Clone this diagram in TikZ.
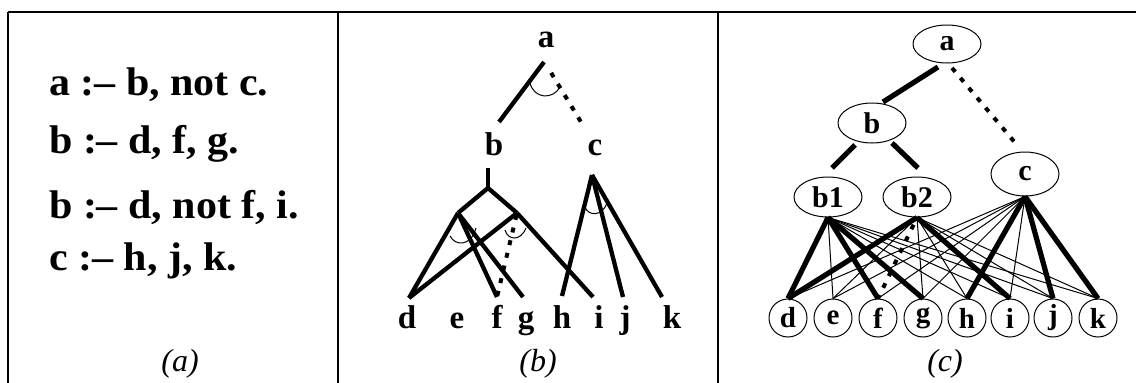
\documentclass[tikz,border=0pt]{standalone}
\usepackage{fontspec}
\setmainfont{Liberation Serif}
\newfontfamily\rulefont[FakeStretch=1.05]{Liberation Serif}
\usetikzlibrary{shapes.geometric,calc}
\begin{document}
\begin{tikzpicture}[x=1pt,y=-1pt,
  frame/.style={line width=1.8pt},
  topline/.style={line width=2.2pt},
  ruletext/.style={anchor=base west, inner sep=0pt, font=\rulefont\bfseries\fontsize{40}{40}\selectfont},
  caption/.style={inner sep=0pt, font=\itshape\fontsize{32}{32}\selectfont},
  blabel/.style={anchor=base, inner sep=0pt, font=\bfseries\fontsize{33}{33}\selectfont},
  bline/.style={line width=4.3pt},
  bdot/.style={line width=4pt, dash pattern=on 5pt off 8pt},
  barc/.style={line width=1pt},
  goal/.style={ellipse, draw, line width=1pt, minimum width=68pt, minimum height=40pt, inner sep=0pt, font=\bfseries\fontsize{30}{30}\selectfont},
  leaf/.style={circle, draw, line width=1pt, minimum size=38pt, inner sep=0pt, font=\bfseries\fontsize{29}{29}\selectfont},
  heavy/.style={line width=5.2pt},
  light/.style={line width=1pt},
  dotedge/.style={line width=4pt, dash pattern=on 5pt off 8pt},
]
\useasboundingbox (0,0) rectangle (1136,383);

% frame
\draw[topline] (8,12) -- (1136,12);
\draw[frame] (8,12) -- (8,383);
\draw[frame] (338,12) -- (338,383);
\draw[frame] (718,12) -- (718,383);

% ---------- panel (a) ----------
\node[ruletext] (r1) at (49,95)  {a :– b, not c.};
\node[ruletext] (r2) at (49,153) {b :– d, f, g.};
\node[ruletext] (r3) at (49,218) {b :– d, not f, i.};
\node[ruletext] (r4) at (49,270) {c :– h, j, k.};
\node[caption] (capa) at (180,364) {(a)};

% ---------- panel (b) ----------
\node[blabel] (ba) at (546,47) {a};
\node[blabel] (bb) at (494,155) {b};
\node[blabel] (bc) at (595,155) {c};
\node[blabel] (bd) at (407,328) {d};
\node[blabel] (be) at (457,328) {e};
\node[blabel] (bf) at (497,328) {f};
\node[blabel] (bg) at (526,328) {g};
\node[blabel] (bh) at (562,328) {h};
\node[blabel] (bi) at (599,328) {i};
\node[blabel] (bj) at (625,328) {j};
\node[blabel] (bk) at (672,328) {k};
\node[caption] (capb) at (538,364) {(b)};

\coordinate (ja) at (544,62);
\coordinate (ab) at (499,122);
\coordinate (ac0) at (547,66);
\coordinate (ac) at (584,127);
\coordinate (jb) at (488,168);
\coordinate (jb2) at (488,188);
\coordinate (jl) at (458,213);
\coordinate (jr) at (517,213);
\coordinate (jc) at (592,175);
\coordinate (ed) at (409,298);
\coordinate (ef) at (497,297);
\coordinate (eg) at (523,297);
\coordinate (eh) at (562,296);
\coordinate (ei) at (593,297);
\coordinate (ej) at (623,297);
\coordinate (ek) at (662,297);

\draw[bline] (ja) -- (ab);
\draw[bdot, dash phase=-8pt] (ac0) -- (ac);
\draw[barc] (530,83) .. controls (534,99) and (553,100) .. (560,87);

\draw[bline] (jb) -- (jb2);
\draw[bline, line join=miter] (jl) -- (jb2) -- (jr);
\draw[bline] (jl) -- (ed);
\draw[bline] (jl) -- (ef);
\draw[bline] (jl) -- (eg);
\draw[bline] (jr) -- (ed);
\draw[bline] (jr) -- (ei);
\draw[bdot, dash phase=11pt] (jr) -- (ef);
\draw[barc] (450,236) .. controls (455,246) and (471,247) .. (476,228);
\draw[barc] (505,230) .. controls (508,241) and (521,241) .. (526,228);

\draw[bline] (jc) -- (eh);
\draw[bline] (jc) -- (ej);
\draw[bline] (jc) -- (ek);
\draw[barc] (585,207) .. controls (588,216) and (602,217) .. (607,203);

% ---------- panel (c) ----------
\node[goal, minimum height=38pt] (ca) at (947,44) {a};
\node[goal] (cb) at (872,123) {b};
\node[goal] (cb1) at (828,197) {b1};
\node[goal] (cb2) at (917,197) {b2};
\node[goal, minimum height=44pt] (cc) at (1025,174) {c};
\node[leaf] (cd) at (788,318) {d};
\node[leaf] (ce) at (833,318) {e};
\node[leaf] (cf) at (878,318) {f};
\node[leaf] (cg) at (923,318) {g};
\node[leaf] (ch) at (967,318) {h};
\node[leaf] (ci) at (1010,318) {i};
\node[leaf] (cj) at (1053,318) {j};
\node[leaf] (ck) at (1098,318) {k};
\node[caption] (capc) at (945,364) {(c)};

% thin edges
\foreach \t in {ce,ch,ci,cj,ck} \draw[light] (cb1.south) -- (\t.north);
\foreach \t in {ce,cg,ch,cj,ck} \draw[light] (cb2.south) -- (\t.north);
\foreach \t in {cd,ce,cf,cg,ci} \draw[light] (cc.south) -- (\t.north);
% thick edges
\draw[heavy] ($(ca)+(-9,23)$) -- ($(cb)+(11,-21)$);
\draw[dotedge] ($(ca)+(5,24)$) -- ($(cc)+(-8,-29)$);
\draw[heavy] ($(cb)+(-17,22)$) -- ($(cb1)+(4,-29)$);
\draw[heavy] ($(cb)+(20,20)$) -- ($(cb2)+(1,-29)$);
\foreach \t in {cd,cf,cg} \draw[heavy] (cb1.south) -- (\t.north);
\foreach \t in {cd,ci} \draw[heavy] (cb2.south) -- (\t.north);
\draw[dotedge, dash phase=-8pt] (cb2.south) -- (cf.north);
\foreach \t in {ch,cj,ck} \draw[heavy] (cc.south) -- (\t.north);
\end{tikzpicture}
\end{document}
